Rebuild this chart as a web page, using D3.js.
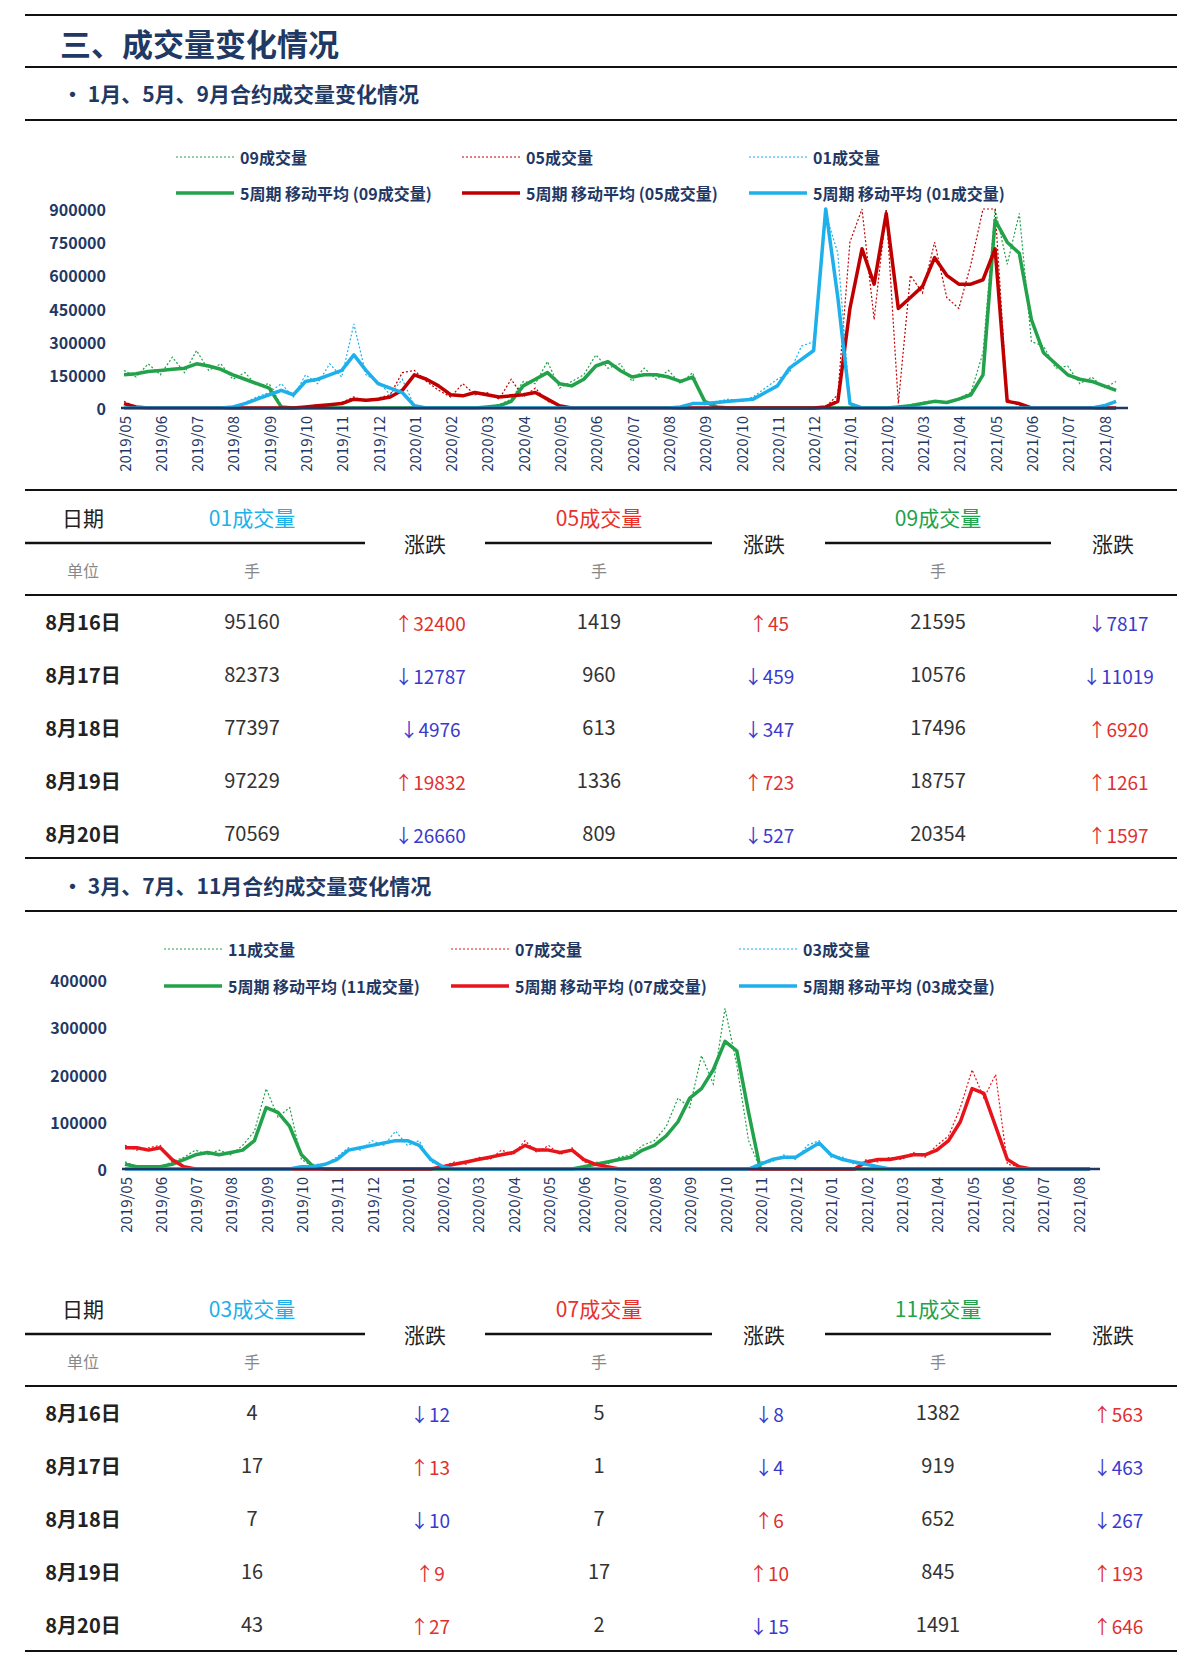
<!DOCTYPE html>
<html><head><meta charset="utf-8">
<script src="https://cdn.jsdelivr.net/npm/d3@7"></script>
<style>body{margin:0;background:#fff}svg{display:block;font-family:"Noto Sans CJK SC","Noto Sans",sans-serif}</style>
</head><body><svg id="c" width="1200" height="1666"></svg>
<script>
// months 2019/05..2021/08, 3 points per month (1st, 11th, 21st); values in thousands (手)
const months = ["2019/05","2019/06","2019/07","2019/08","2019/09","2019/10","2019/11","2019/12","2020/01","2020/02","2020/03","2020/04","2020/05","2020/06","2020/07","2020/08","2020/09","2020/10","2020/11","2020/12","2021/01","2021/02","2021/03","2021/04","2021/05","2021/06","2021/07","2021/08"];
// sparse segments: [start point index, values...], other points are 0
const raw09 = [[0,[170,140,200,150,230,160,260,170,200,130,160,100,110,10]],[30,[5,15,40,120,110,210,90,120,150,240,180,200,120,180,130,170,110,160,20,5]],[64,[5,15,25,35,20,45,70,250,900,650,880,300,280,180,190,110,140,90,120,30]]];
const ma09  = [[0,[150,155,165,170,175,180,200,190,175,150,130,110,90,5]],[30,[5,10,30,100,130,160,110,100,130,190,210,170,140,150,150,140,120,140,30,5]],[64,[5,10,20,30,25,40,60,150,850,750,700,400,250,200,150,130,120,100,80,40]]];
const raw05 = [[0,[30,5]],[15,[5,15,10,25,50,30,45,60,160,170,120,80,50,110,60,70,40,130,50,90,30,10]],[58,[5,60,750,900,400,900,20,600,520,750,500,450,650,900,900,40,10]]];
const ma05  = [[0,[20,5]],[15,[5,10,15,20,40,35,40,50,80,150,130,100,60,55,70,60,50,55,60,70,40,10]],[58,[5,30,450,720,560,880,450,500,550,680,600,560,560,580,720,30,20]]];
const raw01 = [[9,[5,25,50,70,110,50,150,110,200,140,380,150,120,60,130,10]],[46,[5,25,15,30,40,30,50,90,130,160,280,300,880,700,20]],[81,[15,25,90]]];
const ma01  = [[9,[5,20,40,60,80,60,120,130,150,170,240,170,110,90,70,10]],[46,[5,20,20,25,30,35,40,70,100,180,220,260,900,500,20]],[81,[10,30,80]]];

const raw11 = [[0,[15,5,5,5,15,25,40,30,40,30,50,80,170,110,130,20,5]],[39,[5,15,10,25,30,50,60,90,150,130,240,180,340,220,60]]];
const ma11  = [[0,[10,5,5,5,10,20,30,35,30,35,40,60,130,120,90,30,5]],[39,[5,10,15,20,25,40,50,70,100,150,170,210,270,250,120]]];
const raw07 = [[0,[50,40,45,50,15,5]],[27,[5,15,10,25,20,40,30,60,35,50,30,45,15,10,5]],[63,[20,15,25,20,35,25,50,70,130,210,150,200,10,5]]];
const ma07  = [[0,[45,45,40,45,20,5]],[27,[5,10,15,20,25,30,35,50,40,40,35,40,20,10,5]],[63,[15,20,20,25,30,30,40,60,100,170,160,90,20,5]]];
const raw03 = [[15,[5,10,10,25,45,40,60,50,80,50,60,15,5]],[54,[15,15,30,20,50,60,25,25,10,15,5]]];
const ma03  = [[15,[5,5,10,20,40,45,50,55,60,60,50,20,5]],[54,[10,20,25,25,40,55,30,20,15,10,5]]];

const ticks1 = [0,150000,300000,450000,600000,750000,900000];
const ticks2 = [0,100000,200000,300000,400000];

const tbl1Head = ["01成交量","05成交量","09成交量"];
const tbl1Dates = ["8月16日","8月17日","8月18日","8月19日","8月20日"];
const tbl1Vals = [[95160,82373,77397,97229,70569],[1419,960,613,1336,809],[21595,10576,17496,18757,20354]];
const tbl1Chg = [[32400,-12787,-4976,19832,-26660],[45,-459,-347,723,-527],[-7817,-11019,6920,1261,1597]];
const tbl2Head = ["03成交量","07成交量","11成交量"];
const tbl2Vals = [[4,17,7,16,43],[5,1,7,17,2],[1382,919,652,845,1491]];
const tbl2Chg = [[-12,13,-10,9,27],[-8,-4,6,10,-15],[563,-463,-267,193,646]];

const NAVY="#1f3864", GREEN="#22a24a", DRED="#c00000", RED="#e8141b", BLUE="#1eb0ea";
const svg = d3.select("#c");
function expand(segs){const a=new Array(months.length*3).fill(0);segs.forEach(([s,v])=>v.forEach((x,i)=>a[s+i]=x*1000));return a;}
function hline(y,x1=25,x2=1177,w=2){svg.append("line").attr("x1",x1).attr("x2",x2).attr("y1",y).attr("y2",y).attr("stroke","#111").attr("stroke-width",w);}
function txt(x,y,s,o={}){return svg.append("text").attr("x",x).attr("y",y).attr("text-anchor",o.a||"middle").attr("dominant-baseline","central").attr("font-size",o.fs||20).attr("font-weight",o.fw||"normal").attr("fill",o.c||"#333").text(s);}

hline(15);
txt(60,42,"三、成交量变化情况",{a:"start",fs:31,fw:"bold",c:NAVY});
hline(67);
txt(62,93,"• 1月、5月、9月合约成交量变化情况",{a:"start",fs:21,fw:"bold",c:NAVY});
hline(120);
hline(490);
hline(858);
txt(62,885,"• 3月、7月、11月合约成交量变化情况",{a:"start",fs:21,fw:"bold",c:NAVY});
hline(911);

function chart(cfg){
  const n=months.length*3;
  const x=d3.scaleLinear().domain([0,(months.length-1)*3]).range([cfg.x0,cfg.x27]);
  const y=d3.scaleLinear().domain([0,cfg.max]).range([cfg.y0,cfg.ytop]);
  const g=svg.append("g");
  cfg.ticks.forEach(t=>g.append("text").attr("x",cfg.x0-18).attr("y",y(t)).attr("text-anchor","end").attr("dominant-baseline","central").attr("font-size",16).attr("font-weight","bold").attr("fill",NAVY).text(t));
  const line=d3.line().x((d,i)=>x(i)).y(d=>y(d));
  const idx=d3.range(n).filter(i=>x(i)<=cfg.xend);
  cfg.series.forEach(s=>{
    const raw=expand(s.raw).filter((d,i)=>idx.includes(i)), ma=expand(s.ma).filter((d,i)=>idx.includes(i));
    g.append("path").attr("d",line(raw)).attr("fill","none").attr("stroke",s.c).attr("stroke-width",1.2).attr("stroke-dasharray","2,2");
    s.maPath=ma;
  });
  cfg.series.forEach(s=>g.append("path").attr("d",line(s.maPath)).attr("fill","none").attr("stroke",s.c).attr("stroke-width",3.5).attr("stroke-linejoin","round"));
  g.append("line").attr("x1",cfg.x0-3).attr("x2",cfg.xend).attr("y1",cfg.y0).attr("y2",cfg.y0).attr("stroke",NAVY).attr("stroke-width",2.5);
  months.forEach((m,i)=>g.append("text").attr("transform",`translate(${x(i*3)},${cfg.y0+8}) rotate(-90)`).attr("text-anchor","end").attr("dominant-baseline","central").attr("font-size",15).attr("fill",NAVY).text(m));
  cfg.series.forEach((s,k)=>{
    const lx=cfg.leg[k];
    g.append("line").attr("x1",lx).attr("x2",lx+58).attr("y1",cfg.ly1).attr("y2",cfg.ly1).attr("stroke",s.c).attr("stroke-width",1.2).attr("stroke-dasharray","2,2");
    txt(lx+64,cfg.ly1,s.name,{a:"start",fs:16,fw:"bold",c:NAVY});
    g.append("line").attr("x1",lx).attr("x2",lx+58).attr("y1",cfg.ly2).attr("y2",cfg.ly2).attr("stroke",s.c).attr("stroke-width",3.5);
    txt(lx+64,cfg.ly2,`5周期 移动平均 (${s.name})`,{a:"start",fs:16,fw:"bold",c:NAVY});
  });
}
chart({x0:124,x27:1104,xend:1128,y0:408,ytop:209,max:900000,ticks:ticks1,ly1:157,ly2:193,leg:[176,462,749],
  series:[{name:"09成交量",raw:raw09,ma:ma09,c:GREEN},{name:"05成交量",raw:raw05,ma:ma05,c:DRED},{name:"01成交量",raw:raw01,ma:ma01,c:BLUE}]});
chart({x0:125,x27:1078,xend:1100,y0:1169,ytop:980,max:400000,ticks:ticks2,ly1:949,ly2:986,leg:[164,451,739],
  series:[{name:"11成交量",raw:raw11,ma:ma11,c:GREEN},{name:"07成交量",raw:raw07,ma:ma07,c:RED},{name:"03成交量",raw:raw03,ma:ma03,c:BLUE}]});

function table(top,heads,vals,chg){
  const hc=[BLUE,"#e8312b",GREEN], vx=[252,599,938], cx=[430,769,1118];
  txt(83,top+27,"日期",{fs:21,c:"#222"});
  heads.forEach((h,k)=>{txt(vx[k],top+27,h,{fs:21,c:hc[k]});txt(cx[k]-5,top+53,"涨跌",{fs:21,c:"#222"});txt(vx[k],top+80,"手",{fs:16,c:"#888"});});
  hline(top+53,25,365,2.5);hline(top+53,485,712,2.5);hline(top+53,825,1051,2.5);
  txt(83,top+80,"单位",{fs:16,c:"#888"});
  hline(top+105);
  tbl1Dates.forEach((d,r)=>{
    const y=top+131+r*53;
    txt(83,y,d,{fs:20,fw:"bold",c:"#222"});
    for(let k=0;k<3;k++){
      txt(vx[k],y-1,vals[k][r],{fs:20,c:"#333"});
      const v=chg[k][r], up=v>0;
      txt(cx[k],y+1,(up?"↑":"↓")+Math.abs(v),{fs:19,c:up?"#e03030":"#3a3acc"});
    }
  });
}
table(490,tbl1Head,tbl1Vals,tbl1Chg);
table(1281,tbl2Head,tbl2Vals,tbl2Chg);
hline(1651);
</script></body></html>
